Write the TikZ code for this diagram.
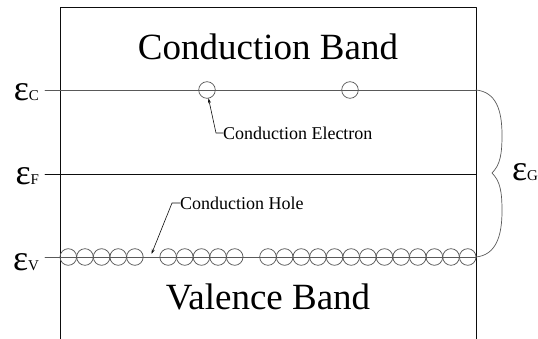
\documentclass[tikz,border=0pt]{standalone}
\usepackage{fontspec}
\setmainfont{Liberation Serif}
\usetikzlibrary{arrows.meta}
\definecolor{BandInk}{gray}{0.05}
\definecolor{BandLevel}{gray}{0.35}
\tikzset{
    band/diagram/.style={
        x=1pt, y=-1pt,
        line cap=round,
        line join=round,
        >=Stealth,
        every node/.style={inner sep=0pt, outer sep=0pt}
    },
    band/wall/.style={draw=BandInk, line width=0.9pt},
    band/level/.style={draw=BandLevel, line width=0.7pt},
    band/fermi/.style={draw=BandInk, line width=0.8pt},
    band/title/.style={font=\fontsize{37}{40}\selectfont},
    band/energy/.style={anchor=base east, font=\fontsize{36}{40}\selectfont},
    band/note/.style={anchor=west, font=\fontsize{18}{20}\selectfont},
    band/carrier/.style={
        circle, draw=BandLevel, line width=0.75pt, minimum size=16.6pt
    },
    band/leader/.style={
        draw=BandInk, line width=0.6pt,
        -{Stealth[length=5pt, width=3pt]}
    },
    band/brace/.style={draw=BandLevel, line width=0.7pt}
}
\newcommand{\bandsub}[1]{{\fontsize{15}{16}\selectfont #1}}

\begin{document}
\begin{tikzpicture}[band/diagram]
    \useasboundingbox (0,0) rectangle (538,339);
    % box and band names
    \draw[band/wall] (60,339) -- (60,7) -- (476,7) -- (476,339);
    \node[band/title] (cband) at (268,47) {Conduction Band};
    \node[band/title] (vband) at (268,297) {Valence Band};

    % energy levels
    \draw[band/level] (45,90) -- (476,90);
    \draw[band/fermi] (45,174) -- (476,174);
    \draw[band/level] (45,257) -- (476,257);
    \node[band/energy] (ec) at (39,101) {ε\bandsub{C}};
    \node[band/energy] (ef) at (39,185) {ε\bandsub{F}};
    \node[band/energy] (ev) at (39,270) {ε\bandsub{V}};

    % electrons
    \node[band/carrier] (e1) at (207,90) {};
    \node[band/carrier] (e2) at (350,90) {};
    \node[band/note] (celec) at (223,133) {Conduction Electron};
    \draw[band/leader] (celec.west) -- ++(-7,0) -- (e1.-80);

    % valence row with two holes
    \foreach \a/\b in {0/4, 6/10, 12/24}
        \foreach \k in {\a,...,\b}
            \node[band/carrier] (h\k) at ({60+16.64*(\k+0.5)},257) {};
    \coordinate (hole) at (151.5,254);
    \node[band/note] (chole) at (180,203) {Conduction Hole};
    \draw[band/leader] (chole.west) -- ++(-8,0) -- (hole);

    % gap brace
    \coordinate (gtop) at (476,90);
    \coordinate (gbot) at (476,257);
    \coordinate (gtip) at (492,173);
    \draw[band/brace] (gtop) .. controls (496,92) and (502,110) .. (502,135)
        .. controls (502,155) and (500,165) .. (gtip)
        .. controls (500,181) and (502,191) .. (502,211)
        .. controls (502,236) and (496,255) .. (gbot);
    \node[band/energy, anchor=base west] (eg) at (512,181) {ε\bandsub{G}};
\end{tikzpicture}
\end{document}
